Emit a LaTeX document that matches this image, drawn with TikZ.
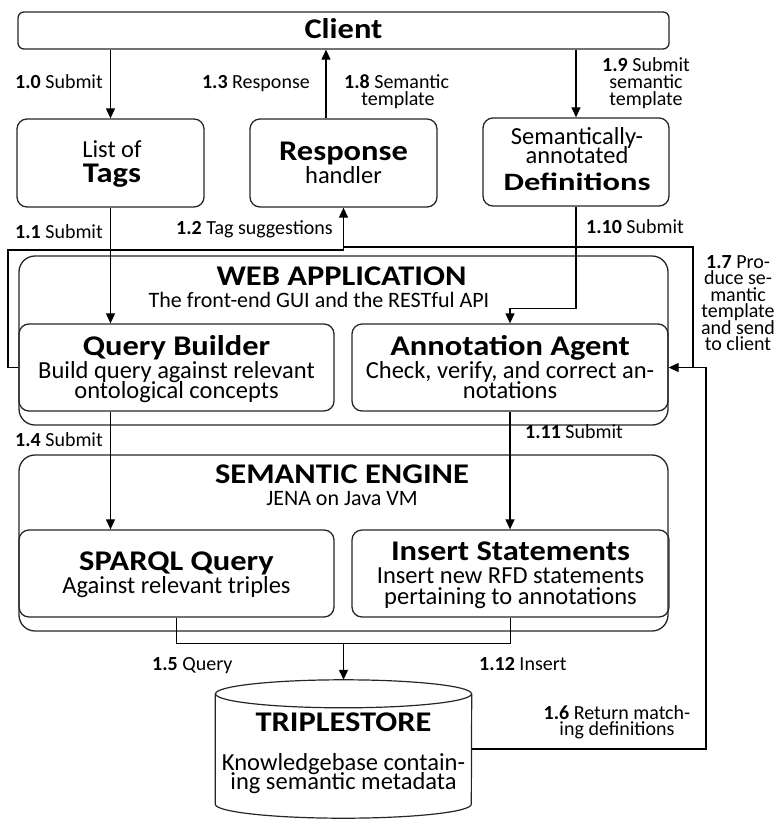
\documentclass[tikz,border=0pt]{standalone}
\usepackage{fontspec}
\setmainfont{Carlito}
\newfontfamily\widefam[FakeStretch=1.14]{Carlito}
\newfontfamily\widerfam[FakeStretch=1.3]{Carlito}
\usetikzlibrary{arrows.meta}
% type sizes used throughout the flow chart
\newcommand\ttlfont{\widefam\fontsize{28.5}{30}\selectfont\bfseries}
\newcommand\dfnfont{\widerfam\fontsize{25}{26}\selectfont\bfseries}
\newcommand\bdyfont{\fontsize{24.5}{26}\selectfont}
\newcommand\subtfont{\fontsize{22}{24}\selectfont}
\newcommand\lblfont{\fontsize{20}{20}\selectfont}
\newcommand\lab[2]{\textbf{#1} #2}
\begin{document}
\begin{tikzpicture}[x=1pt,y=-1pt,
  box/.style={draw=black!85, line width=1.3pt, rounded corners=10pt, inner sep=0pt},
  frame/.style={draw=black!85, line width=1.3pt, rounded corners=16pt, inner sep=0pt},
  link/.style={line width=1.2pt},
  arr/.style={link, -{Triangle[length=10pt,width=9pt]}},
  ttl/.style={font=\ttlfont, inner sep=0pt},
  bdy/.style={font=\bdyfont, inner sep=0pt},
  subt/.style={font=\subtfont, inner sep=0pt},
  lbl/.style={font=\lblfont, inner sep=0pt},
  cyl/.style={draw=black!85, line width=1.2pt}]
\useasboundingbox (0,0) rectangle (784,819);

% ---- client and the three entry boxes
\node[box, rounded corners=6pt, minimum width=651pt, minimum height=37pt] (client) at (343.5,30.5) {};
\node[ttl, anchor=base] (clientT) at (343.5,38) {Client};

\node[box, minimum width=187pt, minimum height=88pt] (tags) at (110.5,163) {};
\node[bdy, anchor=base] (tagsA) at (112,157) {List of};
\node[ttl, anchor=base] (tagsB) at (112,182) {Tags};

\node[box, minimum width=187pt, minimum height=88pt] (resp) at (343.5,163) {};
\node[ttl, anchor=base] (respA) at (343.5,160) {Response};
\node[bdy, anchor=base] (respB) at (343.5,183) {handler};

\node[box, minimum width=186pt, minimum height=88pt] (defs) at (576,162) {};
\node[bdy, anchor=base] (defsA) at (577,144) {Semantically-};
\node[bdy, anchor=base] (defsB) at (577,163) {annotated};
\node[font=\dfnfont, inner sep=0pt, anchor=base] (defsC) at (577,190) {Definitions};

% ---- web application layer
\node[frame, minimum width=649pt, minimum height=169pt] (web) at (343.5,340.5) {};
\node[ttl, anchor=base] (webT) at (341.5,285) {WEB APPLICATION};
\node[subt, anchor=base] (webS) at (319,307) {The front-end GUI and the RESTful API};

\node[box, minimum width=315pt, minimum height=87pt] (qb) at (176.5,367.5) {};
\node[ttl, anchor=base] (qbA) at (176.5,355) {Query Builder};
\node[bdy, anchor=base] (qbB) at (176.5,378) {Build query against relevant};
\node[bdy, anchor=base] (qbC) at (176.5,398) {ontological concepts};

\node[box, minimum width=316pt, minimum height=87pt] (aa) at (510,367.5) {};
\node[ttl, anchor=base] (aaA) at (510,355) {Annotation Agent};
\node[bdy, anchor=base] (aaB) at (510,378) {Check, verify, and correct an-};
\node[bdy, anchor=base] (aaC) at (510,398) {notations};

% ---- semantic engine layer
\node[frame, minimum width=649pt, minimum height=176pt] (sem) at (343.5,543) {};
\node[ttl, anchor=base] (semT) at (342,483) {SEMANTIC ENGINE};
\node[subt, anchor=base] (semS) at (342,505) {JENA on Java VM};

\node[box, minimum width=315pt, minimum height=87pt] (sparql) at (176.5,573.5) {};
\node[ttl, anchor=base] (sparqlA) at (176.5,570) {SPARQL Query};
\node[bdy, anchor=base] (sparqlB) at (176.5,593) {Against relevant triples};

\node[box, minimum width=317pt, minimum height=87pt] (ins) at (510.5,573.5) {};
\node[ttl, anchor=base] (insA) at (510.5,560) {Insert Statements};
\node[bdy, anchor=base] (insB) at (510.5,583) {Insert new RFD statements};
\node[bdy, anchor=base] (insC) at (510.5,604) {pertaining to annotations};

% ---- triple store drum
\node[minimum width=256pt, minimum height=138pt, inner sep=0pt] (store) at (343.5,749) {};
\draw[cyl] ([yshift=-14pt]store.north west) -- ([yshift=14pt]store.south west)
  arc[start angle=180, end angle=0, x radius=128, y radius=14]
  -- ([yshift=-14pt]store.north east);
\draw[cyl] ([yshift=-14pt]store.north) ellipse[x radius=128, y radius=14];
\node[ttl, anchor=base] (storeA) at (343.5,731) {TRIPLESTORE};
\node[bdy, anchor=base] (storeB) at (343.5,770) {Knowledgebase contain-};
\node[bdy, anchor=base] (storeC) at (343.5,789) {ing semantic metadata};

% ---- connectors
\coordinate (r13) at ([xshift=-17.5pt]resp.north);
\coordinate (w12) at (8,250);
\coordinate (e17) at (693,247);
\coordinate (e16) at (706,0);
\coordinate (merge) at (343.5,643);

\draw[arr] (client.south -| tags.north) -- (tags.north);
\draw[arr] (r13) -- (r13 |- client.south);
\draw[arr] (client.south -| defs.north) -- (defs.north);
\draw[arr] (tags.south) -- (tags.south |- qb.north);
\draw[arr] (qb.west) -| (w12) -- (w12 -| resp.south) -- (resp.south);
\draw[link] (aa.east -| e17) -- (e17) -- (e17 -| resp.south);
\draw[arr] (defs.south) -- ++(0,102) -| (aa.north);
\draw[arr] (qb.south -| tags.south) -- (sparql.north -| tags.south);
\draw[arr] (aa.south) -- (aa.south |- ins.north);
\draw[link] (sparql.south) -- ++(0,26) -| (ins.south);
\draw[arr] (merge) -- (store.north);
\draw[arr] (store.east) -| (e16 |- aa.east) -- (aa.east);

% ---- step labels
\node[lbl, anchor=base east] (l10) at (103,88) {\lab{1.0}{Submit}};
\node[lbl, anchor=base east] (l13) at (310,88) {\lab{1.3}{Response}};
\node[lbl, anchor=base west] (l18a) at (344,88) {\lab{1.8}{Semantic}};
\node[lbl, anchor=base] (l18b) at (398,105) {template};
\node[lbl, anchor=base] (l19a) at (646,71) {\lab{1.9}{Submit}};
\node[lbl, anchor=base] (l19b) at (646,88) {semantic};
\node[lbl, anchor=base] (l19c) at (646,105) {template};
\node[lbl, anchor=base east] (l11) at (103,238) {\lab{1.1}{Submit}};
\node[lbl, anchor=base east] (l12) at (333,234) {\lab{1.2}{Tag suggestions}};
\node[lbl, anchor=base west] (l110) at (586,233) {\lab{1.10}{Submit}};
\node[lbl, anchor=base] (l17a) at (738,268) {\lab{1.7}{Pro-}};
\node[lbl, anchor=base] (l17b) at (738,284.5) {duce se-};
\node[lbl, anchor=base] (l17c) at (738,301) {mantic};
\node[lbl, anchor=base] (l17d) at (738,317.5) {template};
\node[lbl, anchor=base] (l17e) at (738,334) {and send};
\node[lbl, anchor=base] (l17f) at (738,350.5) {to client};
\node[lbl, anchor=base east] (l14) at (103,446) {\lab{1.4}{Submit}};
\node[lbl, anchor=base west] (l111) at (525,438) {\lab{1.11}{Submit}};
\node[lbl, anchor=base west] (l15) at (152,670) {\lab{1.5}{Query}};
\node[lbl, anchor=base west] (l112) at (479,670) {\lab{1.12}{Insert}};
\node[lbl, anchor=base] (l16a) at (617,719) {\lab{1.6}{Return match-}};
\node[lbl, anchor=base] (l16b) at (617,735) {ing definitions};
\end{tikzpicture}
\end{document}
